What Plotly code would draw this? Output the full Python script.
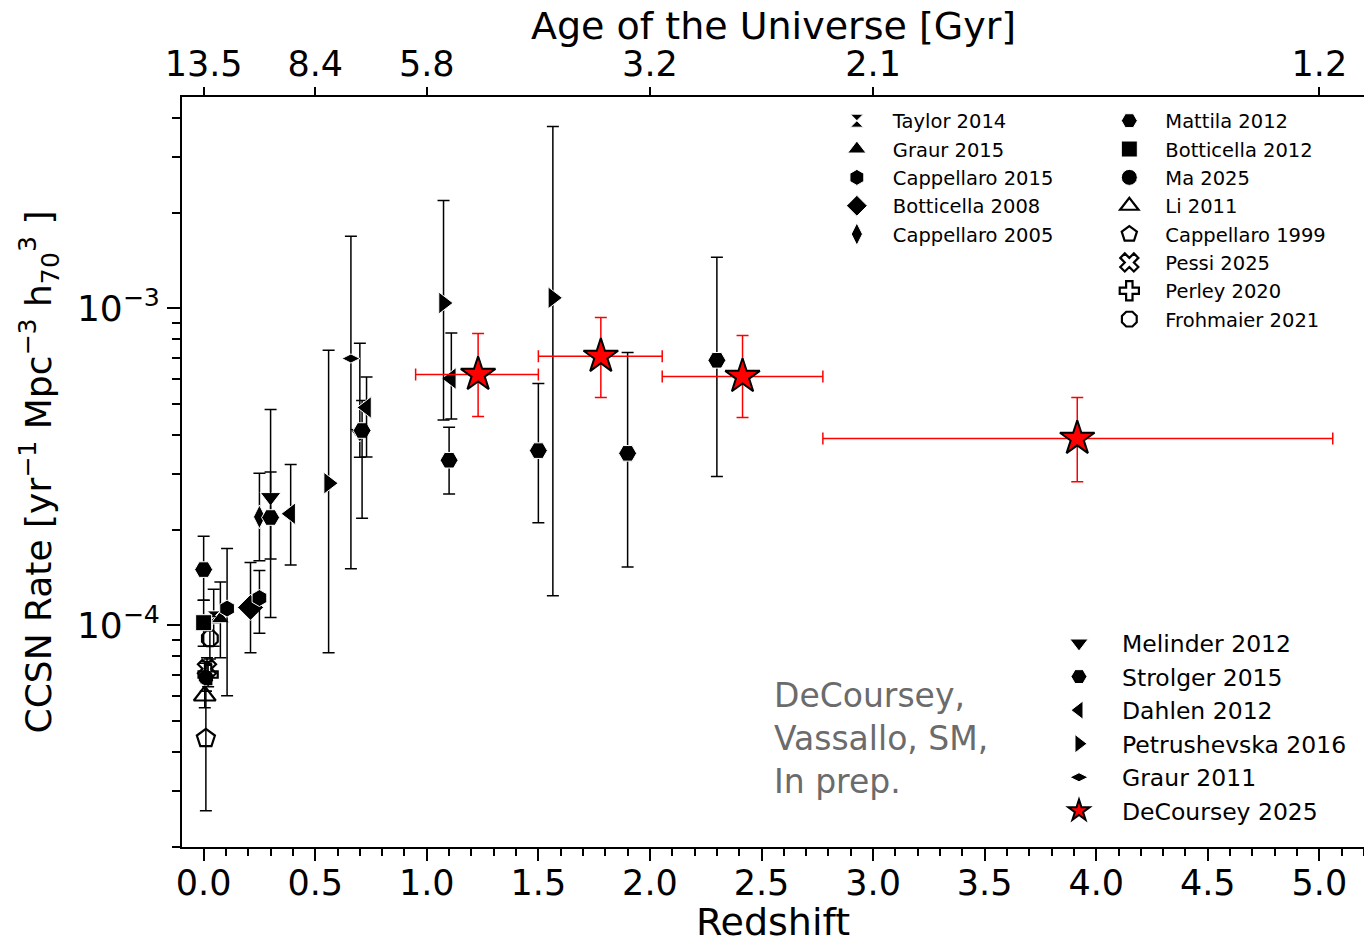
import plotly.graph_objects as go

# ---------------- data ----------------
# each dataset: redshift, rate, upper bound, lower bound  [yr^-1 Mpc^-3 h70^3]
taylor14_z = [0.045]
taylor14_r = [1.06e-4]
taylor14_hi = [1.30e-4]
taylor14_lo = [0.86e-4]

graur15_z = [0.075]
graur15_r = [1.05e-4]
graur15_hi = [1.37e-4]
graur15_lo = [0.79e-4]

capp15_z = [0.105, 0.25]
capp15_r = [1.13e-4, 1.22e-4]
capp15_hi = [1.75e-4, 1.49e-4]
capp15_lo = [0.60e-4, 0.945e-4]

bott08_z = [0.21]
bott08_r = [1.14e-4]
bott08_hi = [1.58e-4]
bott08_lo = [0.82e-4]

capp05_z = [0.25]
capp05_r = [2.20e-4]
capp05_hi = [3.02e-4]
capp05_lo = [1.60e-4]

matt12_z = [0.0]
matt12_r = [1.50e-4]
matt12_hi = [1.91e-4]
matt12_lo = [1.20e-4]

bott12_z = [0.0]
bott12_r = [1.02e-4]
bott12_hi = [1.20e-4]
bott12_lo = [0.86e-4]

ma25_z = [0.01]
ma25_r = [6.85e-5]
ma25_hi = [7.6e-5]
ma25_lo = [6.2e-5]

li11_z = [0.005]
li11_r = [6.0e-5]
li11_hi = [6.8e-5]
li11_lo = [5.5e-5]

capp99_z = [0.01]
capp99_r = [4.4e-5]
capp99_hi = [6.2e-5]
capp99_lo = [2.6e-5]

pessi25_z = [0.015]
pessi25_r = [7.3e-5]
pessi25_hi = [7.9e-5]
pessi25_lo = [6.7e-5]

perley20_z = [0.02]
perley20_r = [7.0e-5]
perley20_hi = [7.7e-5]
perley20_lo = [6.4e-5]

froh21_z = [0.028]
froh21_r = [9.10e-5]
froh21_hi = [10.66e-5]
froh21_lo = [7.83e-5]

mel12_z = [0.30, 0.70]
mel12_r = [2.54e-4, 4.05e-4]
mel12_hi = [4.80e-4, 7.76e-4]
mel12_lo = [1.62e-4, 3.39e-4]

strol15_z = [0.30, 0.71, 1.10, 1.50, 1.90, 2.30]
strol15_r = [2.19e-4, 4.12e-4, 3.32e-4, 3.56e-4, 3.49e-4, 6.86e-4]
strol15_hi = [3.05e-4, 5.12e-4, 4.22e-4, 5.80e-4, 7.26e-4, 1.45e-3]
strol15_lo = [1.06e-4, 2.18e-4, 2.60e-4, 2.11e-4, 1.53e-4, 2.95e-4]

dahl12_z = [0.39, 0.73, 1.11]
dahl12_r = [2.25e-4, 4.87e-4, 6.01e-4]
dahl12_hi = [3.22e-4, 6.08e-4, 8.36e-4]
dahl12_lo = [1.55e-4, 3.40e-4, 4.48e-4]

petr16_z = [0.56, 1.075, 1.565]
petr16_r = [2.81e-4, 1.04e-3, 1.08e-3]
petr16_hi = [7.38e-4, 2.19e-3, 3.75e-3]
petr16_lo = [0.82e-4, 4.45e-4, 1.24e-4]

graur11_z = [0.66]
graur11_r = [6.95e-4]
graur11_hi = [1.69e-3]
graur11_lo = [1.51e-4]

dec25_z = [1.23, 1.78, 2.415, 3.915]
dec25_r = [6.19e-4, 7.06e-4, 6.10e-4, 3.89e-4]
dec25_hi = [8.33e-4, 9.37e-4, 8.22e-4, 5.24e-4]
dec25_lo = [4.56e-4, 5.24e-4, 4.53e-4, 2.84e-4]
dec25_zlo = [0.95, 1.50, 2.055, 2.775]
dec25_zhi = [1.50, 2.055, 2.775, 5.06]

# top axis: age of the universe
age_z = [0.0, 0.5, 1.0, 2.0, 3.0, 5.0]
age_labels = ["13.5", "8.4", "5.8", "3.2", "2.1", "1.2"]

FONT = "DejaVu Sans"

fig = go.Figure()


def add(name, z, r, hi, lo, symbol, size, legend, rank, fill="black", line_col="white",
        line_w=1.0, ecol="black"):
    fig.add_trace(go.Scatter(
        x=z, y=r, mode="markers", name=name, legend=legend, legendrank=rank,
        marker=dict(symbol=symbol, size=size, color=fill,
                    line=dict(color=line_col, width=line_w)),
        error_y=dict(type="data", symmetric=False,
                     array=[h - v for h, v in zip(hi, r)],
                     arrayminus=[v - l for v, l in zip(r, lo)],
                     color=ecol, thickness=1.5, width=6),
    ))


add("Taylor 2014", taylor14_z, taylor14_r, taylor14_hi, taylor14_lo, "hourglass", 13, "legend", 1)
add("Graur 2015", graur15_z, graur15_r, graur15_hi, graur15_lo, "triangle-up", 16, "legend", 2)
add("Botticella 2008", bott08_z, bott08_r, bott08_hi, bott08_lo, "diamond", 20, "legend", 4)
add("Cappellaro 2015", capp15_z, capp15_r, capp15_hi, capp15_lo, "hexagon", 17, "legend", 3)
add("Cappellaro 2005", capp05_z, capp05_r, capp05_hi, capp05_lo, "diamond-tall", 17, "legend", 5)
add("Mattila 2012", matt12_z, matt12_r, matt12_hi, matt12_lo, "hexagon2", 18, "legend2", 1)
add("Cappellaro 1999", capp99_z, capp99_r, capp99_hi, capp99_lo, "pentagon-open", 19, "legend2", 5,
    fill="black", line_col="black", line_w=2.2)
add("Li 2011", li11_z, li11_r, li11_hi, li11_lo, "triangle-up-open", 19, "legend2", 4,
    fill="black", line_col="black", line_w=2.2)
add("Ma 2025", ma25_z, ma25_r, ma25_hi, ma25_lo, "circle", 16, "legend2", 3)
add("Perley 2020", perley20_z, perley20_r, perley20_hi, perley20_lo, "cross-open", 16, "legend2", 7,
    fill="black", line_col="black", line_w=2.2)
add("Pessi 2025", pessi25_z, pessi25_r, pessi25_hi, pessi25_lo, "x-open", 16, "legend2", 6,
    fill="black", line_col="black", line_w=2.2)
add("Frohmaier 2021", froh21_z, froh21_r, froh21_hi, froh21_lo, "octagon-open", 17, "legend2", 8,
    fill="black", line_col="black", line_w=2.2)
add("Botticella 2012", bott12_z, bott12_r, bott12_hi, bott12_lo, "square", 16, "legend2", 2)
add("Melinder 2012", mel12_z, mel12_r, mel12_hi, mel12_lo, "triangle-down", 18, "legend3", 1)
add("Strolger 2015", strol15_z, strol15_r, strol15_hi, strol15_lo, "hexagon2", 18, "legend3", 2)
add("Dahlen 2012", dahl12_z, dahl12_r, dahl12_hi, dahl12_lo, "triangle-left", 19, "legend3", 3)
add("Petrushevska 2016", petr16_z, petr16_r, petr16_hi, petr16_lo, "triangle-right", 19, "legend3", 4)
add("Graur 2011", graur11_z, graur11_r, graur11_hi, graur11_lo, "diamond-wide", 13, "legend3", 5)

fig.add_trace(go.Scatter(
    x=dec25_z, y=dec25_r, mode="markers", name="DeCoursey 2025", legend="legend3", legendrank=6,
    marker=dict(symbol="star", size=26, color="red", line=dict(color="black", width=2)),
    error_y=dict(type="data", symmetric=False,
                 array=[h - v for h, v in zip(dec25_hi, dec25_r)],
                 arrayminus=[v - l for v, l in zip(dec25_r, dec25_lo)],
                 color="red", thickness=1.5, width=6),
    error_x=dict(type="data", symmetric=False,
                 array=[h - v for h, v in zip(dec25_zhi, dec25_z)],
                 arrayminus=[v - l for v, l in zip(dec25_z, dec25_zlo)],
                 color="red", thickness=1.5, width=6),
))

# dummy trace on top axis so that xaxis2 is drawn
fig.add_trace(go.Scatter(x=age_z, y=[None] * len(age_z), xaxis="x2", showlegend=False,
                         mode="markers", hoverinfo="skip"))

xr = [-0.097, 5.2]
minor_y = [k * 10 ** e for e in (-5, -4, -3) for k in range(2, 10) if 2e-5 <= k * 10 ** e <= 4.6e-3]

fig.update_layout(
    width=1364, height=944,
    margin=dict(l=182, r=0, t=97, b=97),
    paper_bgcolor="white", plot_bgcolor="white",
    font=dict(family=FONT, color="black"),
    showlegend=True,
    xaxis=dict(range=xr, tickmode="array",
               tickvals=[0, 0.5, 1, 1.5, 2, 2.5, 3, 3.5, 4, 4.5, 5],
               ticktext=["0.0", "0.5", "1.0", "1.5", "2.0", "2.5", "3.0", "3.5", "4.0", "4.5", "5.0"],
               ticks="outside", ticklen=12, tickwidth=1.8, tickcolor="black",
               ticklabelstandoff=-8,
               minor=dict(dtick=0.1, tick0=0, ticks="outside", ticklen=7, tickwidth=1.5,
                          tickcolor="black", showgrid=False),
               showline=True, linecolor="black", linewidth=1.8,
               showgrid=False, zeroline=False,
               tickfont=dict(size=35, family=FONT),
               title=dict(text="Redshift", font=dict(size=38, family=FONT), standoff=15)),
    xaxis2=dict(range=xr, overlaying="x", side="top", tickmode="array",
                tickvals=age_z, ticktext=age_labels,
                ticks="outside", ticklen=8, tickwidth=1.8, tickcolor="black",
                ticklabelstandoff=-3,
                showline=True, linecolor="black", linewidth=1.8,
                showgrid=False, zeroline=False,
                tickfont=dict(size=35, family=FONT)),
    yaxis=dict(type="log", range=[-4.699, -2.333], tickmode="array",
               tickvals=[1e-4, 1e-3], ticktext=["10<sup>−4</sup>", "10<sup>−3</sup>"],
               ticks="outside", ticklen=13, tickwidth=1.8, tickcolor="black",
               minor=dict(tickmode="array", tickvals=minor_y, ticks="outside", ticklen=8,
                          tickwidth=1.5, tickcolor="black", showgrid=False),
               showline=True, linecolor="black", linewidth=1.8,
               showgrid=False, zeroline=False,
               tickfont=dict(size=36, family=FONT),
               title=dict(text="CCSN Rate [yr<sup>−1</sup> Mpc<sup>−3</sup> h<sub>70</sub><sup>3</sup> ]",
                          font=dict(size=36, family=FONT), standoff=14)),
    legend=dict(x=0.5405, y=0.994, xanchor="left", yanchor="top", bgcolor="rgba(0,0,0,0)",
                font=dict(size=19.5, family=FONT), itemwidth=62, tracegroupgap=0,
                traceorder="normal"),
    legend2=dict(x=0.771, y=0.994, xanchor="left", yanchor="top", bgcolor="rgba(0,0,0,0)",
                 font=dict(size=19.5, family=FONT), itemwidth=62, tracegroupgap=0,
                 traceorder="normal"),
    legend3=dict(x=0.7225, y=0.301, xanchor="left", yanchor="top", bgcolor="rgba(0,0,0,0)",
                 font=dict(size=23.5, family=FONT), itemwidth=76, tracegroupgap=0,
                 traceorder="normal"),
    annotations=[
        dict(text="DeCoursey,<br>Vassallo, SM,<br>In prep.", xref="x", yref="paper",
             x=2.545, y=0.231, xanchor="left", yanchor="top", align="left",
             showarrow=False, font=dict(size=33, family=FONT, color="#6b6b6b")),
        dict(text="Age of the Universe [Gyr]", xref="paper", yref="paper",
             x=0.5, y=(847 - 26) / 750, xanchor="center", yanchor="middle",
             showarrow=False, font=dict(size=38, family=FONT, color="black")),
    ],
)

fig.write_html("out.html")
